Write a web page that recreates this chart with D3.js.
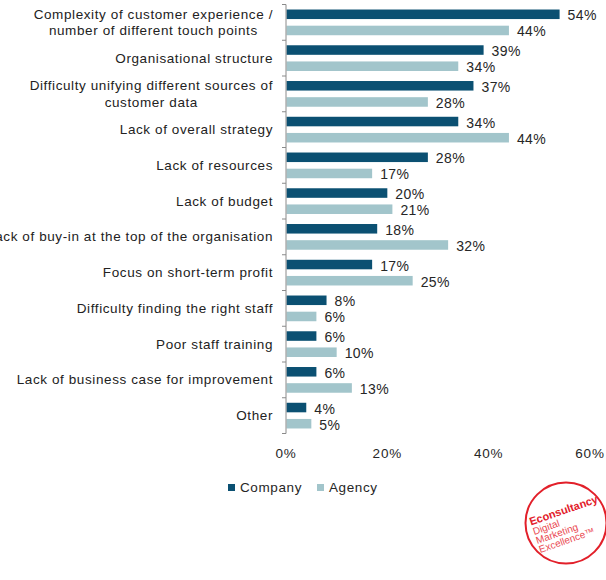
<!DOCTYPE html>
<html><head><meta charset="utf-8">
<script src="https://cdn.jsdelivr.net/npm/d3@7"></script>
<style>
html,body{margin:0;padding:0;background:#fff;}
svg{display:block;font-family:"Liberation Sans",Arial,sans-serif;}
</style></head>
<body><svg id="c" width="606" height="580"></svg>
<script>
const categories = [
  ["Complexity of customer experience /","number of different touch points"],
  ["Organisational structure"],
  ["Difficulty unifying different sources of","customer data"],
  ["Lack of overall strategy"],
  ["Lack of resources"],
  ["Lack of budget"],
  ["Lack of buy-in at the top of the organisation"],
  ["Focus on short-term profit"],
  ["Difficulty finding the right staff"],
  ["Poor staff training"],
  ["Lack of business case for improvement"],
  ["Other"]
];
const companyValues = [54,39,37,34,28,20,18,17,8,6,6,4];
const agencyValues  = [44,34,28,44,17,21,32,25,6,10,13,5];
const seriesNames = ["Company","Agency"];
const xTicks = [0,20,40,60];

const colors = {Company:"#0b5072", Agency:"#a2c5cb"};
const svg = d3.select("#c");
const x = d3.scaleLinear().domain([0,60]).range([286,590]);
const y = d3.scaleBand().domain(d3.range(categories.length)).range([4.5,433.5]);
const inner = d3.scaleBand().domain(seriesNames).range([0,y.bandwidth()]).paddingInner(0.41).paddingOuter(0.31);

// bars
const series = [
  {name:"Company", values:companyValues},
  {name:"Agency", values:agencyValues}
];
series.forEach(s=>{
  const g = svg.append("g");
  g.selectAll("rect").data(s.values).join("rect")
    .attr("x", x(0)+0.5)
    .attr("y",(d,i)=>y(i)+inner(s.name))
    .attr("width",d=>x(d)-x(0)-0.5)
    .attr("height",inner.bandwidth())
    .attr("fill",colors[s.name]);
  g.selectAll("text").data(s.values).join("text")
    .attr("x",d=>x(d)+8)
    .attr("y",(d,i)=>y(i)+inner(s.name)+inner.bandwidth()/2+6)
    .attr("font-size",14).attr("fill","#262626").attr("letter-spacing","0.4")
    .text(d=>d+"%");
});

// y axis line and ticks
const ax = svg.append("g");
ax.append("line").attr("x1",x(0)).attr("x2",x(0)).attr("y1",y.range()[0]).attr("y2",y.range()[1])
  .attr("stroke","#8a8a8a").attr("stroke-width",1);
const bounds = d3.range(categories.length+1).map(i=>y.range()[0]+i*y.step());
ax.selectAll("line.t").data(bounds).join("line").attr("class","t")
  .attr("x1",x(0)-4).attr("x2",x(0)).attr("y1",d=>d).attr("y2",d=>d)
  .attr("stroke","#8a8a8a");

// category labels
const labRight = 273;
categories.forEach((lines,i)=>{
  const cy = y(i)+y.bandwidth()/2;
  const lh = 16.5;
  const t = svg.append("text").attr("font-size",13.5).attr("fill","#222").attr("text-anchor","middle")
    .attr("letter-spacing","0.6");
  const spans = lines.map((ln,j)=>t.append("tspan").attr("y",cy + (j-(lines.length-1)/2)*lh + 4.5).text(ln));
  let maxW = 0;
  spans.forEach(s=>{maxW=Math.max(maxW,s.node().getComputedTextLength());});
  spans.forEach(s=>s.attr("x",labRight-maxW/2));
});

// x tick labels
svg.append("g").selectAll("text").data(xTicks).join("text")
  .attr("x",d=>x(d)).attr("y",458).attr("text-anchor","middle")
  .attr("font-size",13.5).attr("fill","#262626").attr("letter-spacing","0.8")
  .text(d=>d+"%");

// legend
const leg = svg.append("g");
const legItems = [{name:"Company",x:228},{name:"Agency",x:317}];
legItems.forEach(it=>{
  leg.append("rect").attr("x",it.x).attr("y",484).attr("width",7).attr("height",7).attr("fill",colors[it.name]);
  leg.append("text").attr("x",it.x+12).attr("y",492).attr("font-size",13.5).attr("fill","#262626")
    .attr("letter-spacing","0.6").text(it.name);
});

// logo
const logo = svg.append("g").attr("transform","translate(566,523)");
logo.append("circle").attr("r",40.5).attr("fill","none").attr("stroke","#e2202a").attr("stroke-width",2);
const lt = logo.append("g").attr("transform","rotate(-19)");
lt.append("text").attr("x",-34).attr("y",-9).attr("font-size",11).attr("font-weight","bold").attr("fill","#e2202a").text("Econsultancy");
[["Digital",1],["Marketing",10.5],["Excellence\u2122",20]].forEach(([s,yy])=>{
  lt.append("text").attr("x",-34).attr("y",yy).attr("font-size",10).attr("fill","#ea4a52").text(s);
});
</script></body></html>
